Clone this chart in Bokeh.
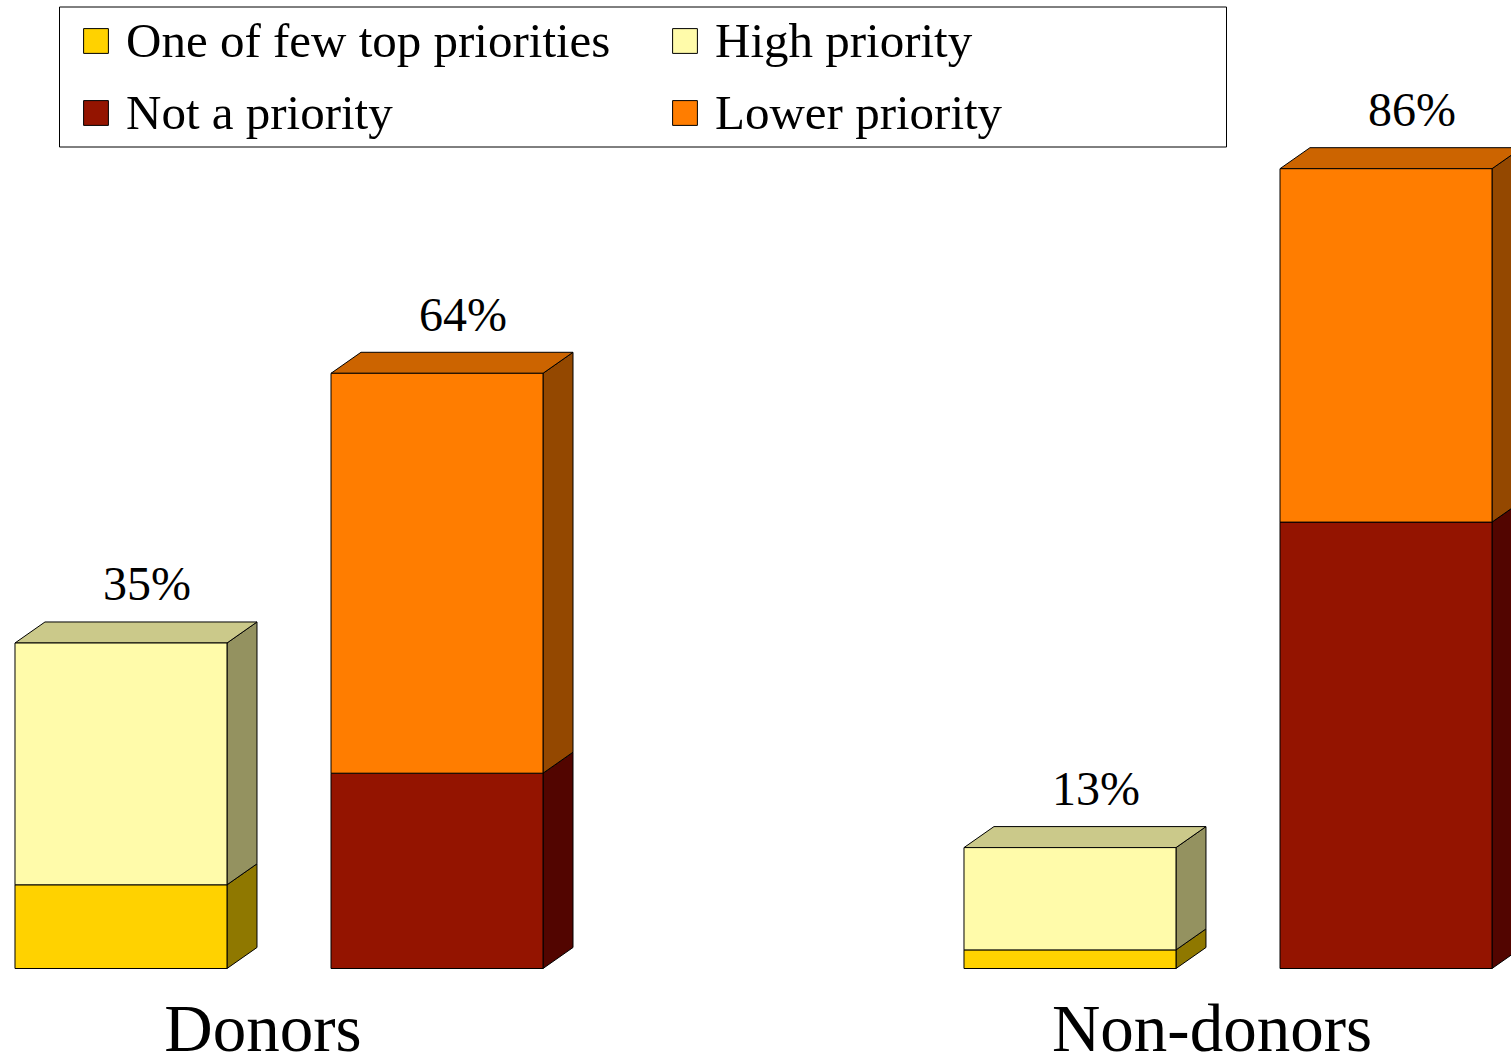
from bokeh.plotting import figure
from bokeh.models import Range1d, Legend, LegendItem, BoxAnnotation
from bokeh.embed import file_html
from bokeh.resources import INLINE
from bokeh.core.properties import value

# ---------------- data ----------------
groups = ["Donors", "Non-donors"]
top_priority = [9, 2]        # One of few top priorities
high_priority = [26, 11]     # High priority
not_priority = [21, 48]      # Not a priority
lower_priority = [43, 38]    # Lower priority
legend_labels = ["One of few top priorities", "High priority",
                 "Not a priority", "Lower priority"]

# ---------------- style ----------------
W, H = 1511, 1058
BAR_OFFSET = 0.1665
BAR_W = 0.2234
DX = 0.0316      # 3D depth, x (data units)
DY = 2.26        # 3D depth, y (percent units)
FONT = "Liberation Serif"
FRONT = {"top": "#FFD200", "high": "#FFFBAA", "not": "#941400", "lower": "#FF7D00"}
SIDE = {"top": "#8F7800", "high": "#949260", "not": "#520500", "lower": "#944800"}
TOPC = {"high": "#CBC98A", "lower": "#CC6400"}
EDGE = "#000000"

p = figure(width=W, height=H,
           x_range=Range1d(-0.29347, 1.29874), y_range=Range1d(-9.677, 104.086),
           output_backend="svg", toolbar_location=None, min_border=0,
           x_axis_location=None, y_axis_location=None,
           outline_line_color=None, background_fill_color="white",
           border_fill_color="white")
p.grid.visible = False

gi = list(range(len(groups)))


def stack_segment(values, bottoms, slot, key, with_top):
    xc = [g + slot for g in gi]
    tops = [b + v for b, v in zip(bottoms, values)]
    half = BAR_W / 2
    # right side face
    p.patches(xs=[[x + half, x + half + DX, x + half + DX, x + half] for x in xc],
              ys=[[b, b + DY, t + DY, t] for b, t in zip(bottoms, tops)],
              fill_color=SIDE[key], line_color=EDGE, line_width=1)
    if with_top:
        p.patches(xs=[[x - half, x - half + DX, x + half + DX, x + half] for x in xc],
                  ys=[[t, t + DY, t + DY, t] for t in tops],
                  fill_color=TOPC[key], line_color=EDGE, line_width=1)
    r = p.vbar(x=xc, width=BAR_W, bottom=bottoms, top=tops,
               fill_color=FRONT[key], line_color=EDGE, line_width=1)
    return r, tops


zeros = [0] * len(groups)
r_top, t1 = stack_segment(top_priority, zeros, -BAR_OFFSET, "top", False)
r_high, tot_left = stack_segment(high_priority, t1, -BAR_OFFSET, "high", True)
r_not, t2 = stack_segment(not_priority, zeros, BAR_OFFSET, "not", False)
r_lower, tot_right = stack_segment(lower_priority, t2, BAR_OFFSET, "lower", True)

# percent labels on top of each bar
for slot, totals in ((-BAR_OFFSET, tot_left), (BAR_OFFSET, tot_right)):
    p.text(x=[g + slot + DX / 2 for g in gi], y=[t + DY for t in totals],
           text=[f"{t}%" for t in totals],
           text_font=value(FONT), text_font_size="48px", text_color="black",
           text_align="center", text_baseline="alphabetic",
           x_offset=11, y_offset=-38)

# group labels
p.text(x=gi, y=zeros, text=groups,
       text_font=value(FONT), text_font_size="67px", text_color="black",
       text_align="center", text_baseline="alphabetic",
       x_offset=-16, y_offset=59)

# legend
legend = Legend(items=[LegendItem(label=legend_labels[0], renderers=[r_top]),
                       LegendItem(label=legend_labels[2], renderers=[r_not]),
                       LegendItem(label=legend_labels[1], renderers=[r_high]),
                       LegendItem(label=legend_labels[3], renderers=[r_lower])],
                location=(80, 917.5), orientation="vertical", ncols=2,
                padding=0, margin=0, spacing=15,
                glyph_width=31, glyph_height=31, label_standoff=15,
                label_width=528,
                label_text_font=FONT, label_text_font_size="49px",
                label_text_color="black",
                border_line_color=None, background_fill_alpha=0)
p.add_layout(legend)

box = BoxAnnotation(left=59, right=1226, bottom=911.5, top=1051.5,
                    left_units="screen", right_units="screen",
                    top_units="screen", bottom_units="screen",
                    fill_color=None, line_color="black", line_width=1, line_alpha=1)
p.add_layout(box)

open("out.html", "w").write(file_html(p, INLINE))
